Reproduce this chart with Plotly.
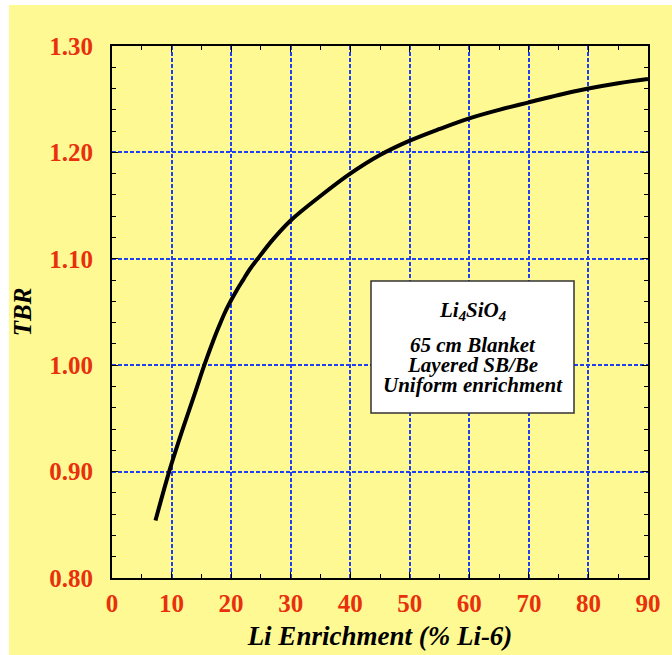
import plotly.graph_objects as go

# Data
li_enrichment = [7.3, 9.6, 12.0, 14.0, 15.5, 17.0, 18.0, 19.0, 20.0, 21.0, 22.0, 23.0, 24.4, 27.0, 30.0, 35.0,
                 40.0, 45.0, 50.0, 55.0, 60.0, 65.0, 70.0, 75.0, 80.0, 85.0, 90.0]
tbr = [0.854, 0.900, 0.942, 0.975, 1.000, 1.023, 1.037, 1.050, 1.061, 1.071, 1.080, 1.089, 1.0995, 1.118, 1.136, 1.159,
       1.180, 1.1975, 1.211, 1.222, 1.232, 1.240, 1.247, 1.254, 1.260, 1.265, 1.269]

x_ticks = [0, 10, 20, 30, 40, 50, 60, 70, 80, 90]
y_ticks = [0.80, 0.90, 1.00, 1.10, 1.20, 1.30]
y_tick_labels = ["0.80", "0.90", "1.00", "1.10", "1.20", "1.30"]
box_lines = ["Li<sub>4</sub>SiO<sub>4</sub>", "65 cm Blanket", "Layered SB/Be", "Uniform enrichment"]

YELLOW = "#FFF994"
RED = "#E8300C"
BLUE = "#1F3FF0"
SERIF = "Liberation Serif, Times New Roman, serif"

fig = go.Figure()
fig.add_trace(go.Scatter(x=li_enrichment, y=tbr, mode="lines",
                         line=dict(color="black", width=4, shape="spline", smoothing=1.0),
                         showlegend=False))

L, R, T, B = 112, 24, 46, 77
W, H = 672, 655
pw, ph = W - L - R, H - T - B

def px_to_paper_x(px):
    return (px - L) / pw

def px_to_paper_y(py):
    return (H - B - py) / ph

# yellow page background with white strip left/top
fig.add_shape(type="rect", xref="paper", yref="paper", layer="below",
              x0=px_to_paper_x(9), x1=px_to_paper_x(W + 5),
              y0=px_to_paper_y(H + 5), y1=px_to_paper_y(5),
              fillcolor=YELLOW, line=dict(width=0))

# annotation box
fig.add_shape(type="rect", xref="paper", yref="paper", layer="above",
              x0=px_to_paper_x(371), x1=px_to_paper_x(574),
              y0=px_to_paper_y(413), y1=px_to_paper_y(281),
              fillcolor="white", line=dict(color="#333333", width=1.5))

cx = px_to_paper_x(472.5)
centers = [311, 345, 365, 385]
for txt, cy in zip(box_lines, centers):
    fig.add_annotation(x=cx, y=px_to_paper_y(cy), xref="paper", yref="paper",
                       text=txt, showarrow=False, xanchor="center", yanchor="middle",
                       font=dict(family=SERIF, size=21, color="black",
                                 weight="bold", style="italic"))

axis_common = dict(
    showline=True, linecolor="black", linewidth=2, mirror="ticks",
    ticks="inside", ticklen=6, tickcolor="black", tickwidth=1,
    showgrid=True, gridcolor=BLUE, gridwidth=2, griddash="4px,2px",
    zeroline=False, automargin=False,
    tickfont=dict(family=SERIF, size=25, color=RED, weight="bold"),
)

fig.update_xaxes(range=[0, 90], tickvals=x_ticks, ticklabelstandoff=2,
                 minor=dict(dtick=5, ticks="inside", ticklen=4, tickcolor="black", showgrid=False),
                 title=dict(text="Li Enrichment (% Li-6)", standoff=10,
                            font=dict(family=SERIF, size=27, color="black", weight="bold", style="italic")),
                 **axis_common)
fig.update_yaxes(range=[0.80, 1.30], tickvals=y_ticks, ticktext=y_tick_labels, ticklabelstandoff=12,
                 minor=dict(dtick=0.02, ticks="inside", ticklen=4, tickcolor="black", showgrid=False),
                 title=dict(text="TBR", standoff=11,
                            font=dict(family=SERIF, size=25, color="black", weight="bold", style="italic")),
                 **axis_common)

fig.update_layout(width=W, height=H, autosize=False,
                  margin=dict(l=L, r=R, t=T, b=B, pad=0),
                  paper_bgcolor="white", plot_bgcolor=YELLOW)

fig.write_html("out.html")
